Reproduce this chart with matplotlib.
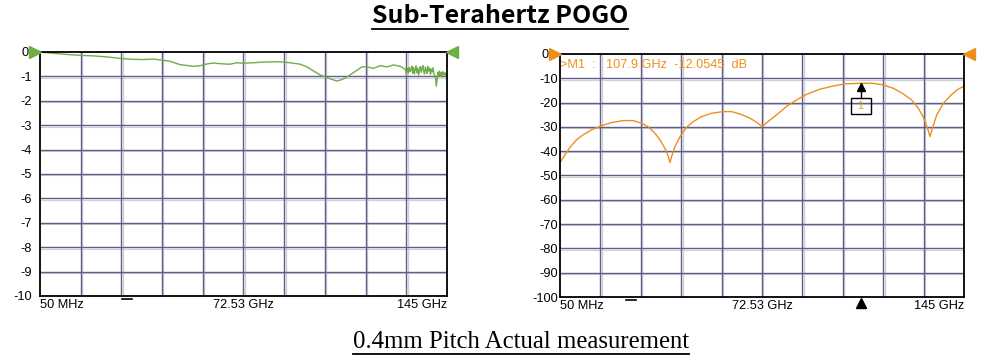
import matplotlib
matplotlib.use("Agg")
import matplotlib.pyplot as plt
import matplotlib.transforms as mtransforms
from matplotlib.lines import Line2D
from matplotlib.patches import Rectangle

# ---------------- data ----------------
title_text = "Sub-Terahertz POGO"
caption_text = "0.4mm Pitch Actual measurement"
x_tick_labels = ["50 MHz", "72.53 GHz", "145 GHz"]
f_start, f_stop = 0.05, 145.0  # GHz

s21_yticks = [0, -1, -2, -3, -4, -5, -6, -7, -8, -9, -10]
s11_yticks = [0, -10, -20, -30, -40, -50, -60, -70, -80, -90, -100]

# Insertion loss (green trace), GHz / dB
s21_freq = [0.05, 3.6, 9.55, 14.9, 19.1, 23.8, 29.2, 33.3, 36.9, 40.5, 43.8, 46.4,
            50.0, 52.3, 54.7, 57.1, 59.5, 61.8, 64.2, 67.8, 70.1, 72.5, 76.1, 78.4,
            80.8, 84.4, 86.8, 90.3, 92.7, 95.1, 97.5, 99.8, 101.6, 103.4, 105.8,
            107.6, 109.4, 111.1, 112.9, 114.7, 116.5, 118.9, 121.2, 123.6, 126.0,
            128.4, 130.1, 130.6, 131.0, 131.3, 131.6, 131.9, 132.2, 132.5, 132.8,
            133.1, 133.4, 133.7, 134.0, 134.3, 134.6, 134.9, 135.2, 135.5, 135.8,
            136.1, 136.4, 136.7, 137.0, 137.3, 137.6, 137.9, 138.2, 138.5, 138.8,
            139.1, 139.4, 139.7, 140.0, 140.3, 140.6, 140.9, 141.2, 141.5, 141.8,
            142.1, 142.4, 142.7, 143.0, 143.3, 143.6, 143.9, 144.2, 144.5, 144.8, 145.0]
s21_db = [0.00, -0.04, -0.10, -0.14, -0.16, -0.20, -0.27, -0.30, -0.31, -0.29, -0.34, -0.38,
          -0.52, -0.55, -0.59, -0.56, -0.49, -0.45, -0.48, -0.50, -0.44, -0.46, -0.44, -0.42,
          -0.41, -0.40, -0.41, -0.46, -0.50, -0.61, -0.78, -0.94, -1.02, -1.10, -1.19,
          -1.13, -1.02, -0.89, -0.75, -0.61, -0.61, -0.67, -0.56, -0.61, -0.53,
          -0.59, -0.70, -0.92, -0.66, -0.85, -0.62, -0.80, -0.72, -0.58, -0.88,
          -0.64, -0.90, -0.70, -0.57, -0.86, -0.66, -0.95, -0.72, -0.60, -0.84,
          -0.68, -0.56, -0.80, -0.90, -0.62, -0.74, -0.88, -0.58, -0.78, -0.66,
          -0.92, -0.70, -0.82, -0.64, -0.88, -0.95, -1.05, -1.40, -1.10, -0.82,
          -0.98, -0.78, -1.00, -0.84, -0.96, -0.80, -0.93, -0.86, -1.02, -0.84, -0.92]

# Return loss (orange trace), GHz / dB
s11_freq = [0.05, 1.84, 3.63, 6.0, 8.4, 11.4, 15.0, 18.6, 22.75, 26.3, 29.3, 31.7,
            34.1, 35.9, 37.7, 38.9, 39.5, 40.1, 41.3, 43.1, 45.5, 47.9, 50.8, 54.4,
            58.6, 61.6, 64.6, 68.2, 70.6, 72.6, 74.7, 77.7, 81.3, 84.9, 88.5, 93.3,
            98.0, 102.2, 107.9, 112.4, 116.0, 119.6, 123.2, 126.2, 128.6, 130.4,
            131.9, 132.8, 133.8, 135.2, 137.6, 140.0, 142.4, 145.0]
s11_db = [-44.7, -41.5, -38.4, -35.3, -33.2, -31.2, -29.5, -28.2, -27.4, -27.4, -28.5, -29.9,
          -32.6, -35.3, -38.8, -42.2, -44.7, -42.2, -38.1, -34.0, -30.1, -27.8, -25.8, -24.4,
          -23.7, -23.7, -24.7, -26.4, -28.1, -29.9, -27.8, -25.1, -21.6, -18.9, -16.6, -14.5,
          -13.2, -12.3, -12.05, -12.05, -12.7, -14.1, -16.4, -18.9, -22.3, -26.0,
          -30.5, -34.0, -30.1, -25.1, -20.3, -17.3, -14.8, -13.2]

marker_freq = 107.9
marker_db = -12.0545
marker_label = ">M1  :   107.9 GHz  -12.0545  dB"

# ---------------- style ----------------
GREEN = "#6fad47"
ORANGE = "#ee8f1c"
GRID_DARK = "#5f5d8a"
GRID_LIGHT = "#cfcfdc"
SANS = ["Liberation Sans", "DejaVu Sans"]
TICK_FS = 9.2

fig = plt.figure(figsize=(10, 3.6), dpi=100)
W, H = 1000, 360


def make_axes(px_left, px_top, px_right, px_bottom):
    return fig.add_axes([px_left / W, 1 - px_bottom / H,
                         (px_right - px_left) / W, (px_bottom - px_top) / H])


def style_axes(ax, yticks, ypad, zero_pad):
    ax.set_xlim(f_start, f_stop)
    ax.set_ylim(yticks[-1], yticks[0])
    ax.set_xticks([])
    ax.set_yticks(yticks)
    ax.set_yticklabels([str(v) for v in yticks], fontfamily=SANS, fontsize=TICK_FS)
    ax.tick_params(axis="y", length=0, pad=ypad)
    ax.yaxis.get_major_ticks()[0].set_pad(zero_pad)
    for sp in ax.spines.values():
        sp.set_color("black")
        sp.set_linewidth(1.3)
        sp.set_zorder(5)
    step = (f_stop - f_start) / 10
    dark_kw = dict(color=GRID_DARK, lw=1.0, zorder=1)
    off_x = mtransforms.offset_copy(ax.transData, fig=fig, x=1.3, y=0, units="dots")
    off_y = mtransforms.offset_copy(ax.transData, fig=fig, x=0, y=-1.3, units="dots")
    for i in range(1, 10):
        xv = f_start + i * step
        ax.plot([xv, xv], [yticks[-1], yticks[0]], color=GRID_LIGHT, lw=1.0,
                transform=off_x, zorder=0.9)
        ax.plot([xv, xv], [yticks[-1], yticks[0]], **dark_kw)
    for yv in yticks[1:-1]:
        ax.plot([f_start, f_stop], [yv, yv], color=GRID_LIGHT, lw=0.8,
                transform=off_y, zorder=0.9)
        ax.plot([f_start, f_stop], [yv, yv], **dark_kw)
    # frequency labels
    lab_kw = dict(transform=ax.transAxes, fontsize=TICK_FS, fontfamily=SANS, va="top")
    ax.text(0.0, -0.013, x_tick_labels[0], ha="left", **lab_kw)
    ax.text(0.5, -0.013, x_tick_labels[1], ha="center", **lab_kw)
    ax.text(1.0, -0.013, x_tick_labels[2], ha="right", **lab_kw)


def ref_triangles(ax, color):
    tl = mtransforms.offset_copy(ax.transAxes, fig=fig, x=-5, y=0, units="dots")
    tr = mtransforms.offset_copy(ax.transAxes, fig=fig, x=5, y=0, units="dots")
    ax.plot([0], [1], marker=">", ms=8, color=color, transform=tl, clip_on=False, zorder=6)
    ax.plot([1], [1], marker="<", ms=8, color=color, transform=tr, clip_on=False, zorder=6)


def dash(ax, xfrac):
    t = mtransforms.offset_copy(ax.transAxes, fig=fig, x=0, y=-3, units="dots")
    ax.plot([xfrac - 0.012, xfrac + 0.012], [0, 0], color="black", lw=1.2,
            transform=t, clip_on=False, zorder=6)


# ---- left chart (S21) ----
ax1 = make_axes(40, 52, 447, 296)
style_axes(ax1, s21_yticks, 6, 8)
ax1.plot(s21_freq, s21_db, color=GREEN, lw=1.0, zorder=3)
ref_triangles(ax1, GREEN)
dash(ax1, 0.213)

# ---- right chart (S11) ----
ax2 = make_axes(560, 54, 964, 297)
style_axes(ax2, s11_yticks, 1.5, 8)
ax2.plot(s11_freq, s11_db, color=ORANGE, lw=1.0, zorder=3)
ref_triangles(ax2, ORANGE)
dash(ax2, 0.176)
ax2.text(0.0, 0.955, marker_label, transform=ax2.transAxes, color=ORANGE,
         fontsize=TICK_FS, fontfamily=SANS, ha="left", va="center")
# marker symbol
ax2.plot([marker_freq], [marker_db - 1.4], marker="^", ms=6, color="black", zorder=6)
ax2.plot([marker_freq, marker_freq], [marker_db - 2.3, -18.2], color="black", lw=1.0, zorder=6)
ax2.add_patch(Rectangle((marker_freq - 3.3, -24.7), 7.2, 6.5, fill=False,
                        edgecolor="black", lw=1.0, zorder=6))
ax2.text(marker_freq, -21.6, "1", color=ORANGE, fontsize=7.5, fontfamily=SANS,
         ha="center", va="center", zorder=7)
bt = mtransforms.blended_transform_factory(ax2.transData, ax2.transAxes)
bt = bt + mtransforms.ScaledTranslation(0, -6 / 100, fig.dpi_scale_trans)
ax2.plot([marker_freq], [0], marker="^", ms=7, color="black", transform=bt,
         clip_on=False, zorder=6)

# ---- titles ----
t1 = fig.text(0.5, 1 - 16 / H, title_text, ha="center", va="center",
              fontsize=18, fontweight="bold", fontfamily=["Noto Sans CJK JP", "DejaVu Sans"])
t2 = fig.text(0.521, 1 - 342 / H, caption_text, ha="center", va="center",
              fontsize=17.8, fontfamily=["Liberation Serif", "DejaVu Serif"])

fig.canvas.draw()
r = fig.canvas.get_renderer()
for t, ypx in ((t1, 28.5), (t2, 353.5)):
    bb = t.get_window_extent(r)
    fig.add_artist(Line2D([bb.x0 / W, bb.x1 / W], [1 - ypx / H, 1 - ypx / H],
                          color="black", lw=1.3, transform=fig.transFigure))

fig.savefig("out.png", dpi=100, facecolor="white")
